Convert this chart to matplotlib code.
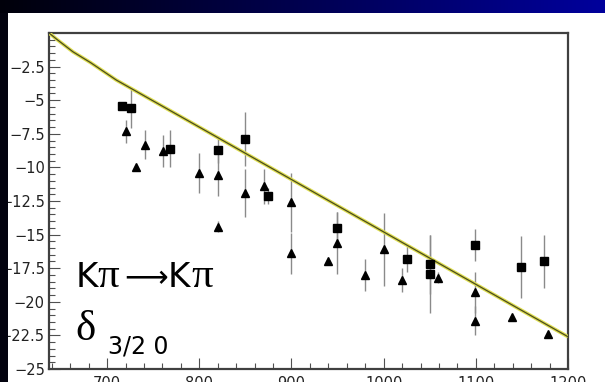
import numpy as np
import matplotlib
matplotlib.use('Agg')
from matplotlib import pyplot as plt
from matplotlib.ticker import MultipleLocator, FuncFormatter
from matplotlib.colors import LinearSegmentedColormap

# I=3/2 S-wave K pi phase shift (degrees) vs invariant mass (MeV)
curve_m = [637, 646, 663, 682, 710, 800, 900, 1000, 1100, 1200]
curve_d = [0.0, -0.5, -1.4, -2.2, -3.5, -7.0, -10.9, -14.8, -18.7, -22.6]

# data set 1 (squares)
sq_m = [716, 726, 768, 820, 850, 875, 949, 1025, 1050, 1050, 1099, 1149, 1174]
sq_d = [-5.4, -5.6, -8.6, -8.7, -7.9, -12.1, -14.5, -16.8, -17.2, -17.9, -15.8, -17.4, -17.0]
sq_e = [0.3, 1.5, 1.4, 1.0, 2.0, 0.6, 1.2, 1.0, 2.2, 2.9, 1.2, 2.3, 2.0]

# data set 2 (triangles)
tr_m = [721, 731, 741, 761, 800, 820, 820, 850, 870, 900, 900, 940, 949, 980,
        1000, 1020, 1059, 1099, 1099, 1139, 1178]
tr_d = [-7.3, -10.0, -8.3, -8.8, -10.4, -10.6, -14.4, -11.9, -11.4, -12.6, -16.4, -17.0, -15.6, -18.0,
        -16.1, -18.4, -18.2, -19.3, -21.4, -21.1, -22.4]
tr_e = [0.85, 0.0, 1.1, 1.2, 1.5, 1.5, 0.4, 1.8, 1.3, 2.2, 1.5, 0.0, 2.3, 1.2,
        2.7, 0.9, 0.4, 1.5, 1.1, 0.0, 0.0]

W, H = 605, 382
fig = plt.figure(figsize=(W/100., H/100.), dpi=100)
fig.patch.set_facecolor('white')

ax = fig.add_axes([49./W, 1-369./H, (568.-49.)/W, (369.-33.)/H])
ax.set_xlim(637, 1200)
ax.set_ylim(-25, 0)

# error bars
ax.errorbar(sq_m, sq_d, yerr=sq_e, fmt='none', ecolor='#8a8a8a', elinewidth=1.0, capsize=0, zorder=2)
ax.errorbar(tr_m, tr_d, yerr=tr_e, fmt='none', ecolor='#8a8a8a', elinewidth=1.0, capsize=0, zorder=2)

# theory curve
ax.plot(curve_m, curve_d, color='#dede50', lw=2.6, zorder=3, solid_capstyle='butt')
ax.plot(curve_m, curve_d, color='#4a4a20', lw=0.9, zorder=4)

ax.plot(sq_m, sq_d, 's', color='black', ms=5.8, zorder=5)
ax.plot(tr_m, tr_d, '^', color='black', ms=5.5, zorder=5)

# axes style
for side in ['left', 'bottom', 'right', 'top']:
    ax.spines[side].set_linewidth(1.6)
    ax.spines[side].set_color('#404040')

ax.set_yticks(np.arange(-25, -2.4, 2.5))
ax.set_xticks(np.arange(700, 1201, 100))
ax.yaxis.set_minor_locator(MultipleLocator(0.5))
ax.xaxis.set_minor_locator(MultipleLocator(20))
ax.yaxis.set_major_formatter(FuncFormatter(lambda v, p: ('%g' % v).replace('-', u'\u2212')))
ax.tick_params(which='both', direction='in', color='#505050', width=0.8,
               top=False, right=False, labelsize=10.5, labelcolor='#222222')
ax.tick_params(which='major', length=8)
ax.tick_params(which='minor', length=4)
ax.tick_params(axis='y', pad=3)
ax.tick_params(axis='x', pad=5)
for lab in ax.get_xticklabels() + ax.get_yticklabels():
    lab.set_family('DejaVu Sans')


def ftext(x, y, s, **kw):
    fig.text(x/float(W), 1-y/float(H), s, va='baseline', ha='left', color='black', **kw)


# Kpi -> Kpi label
ftext(76, 287, 'K', family='DejaVu Sans', size=24.5)
ftext(97, 287, u'\u03c0', family='Liberation Serif', size=31)
ftext(124, 287, u'\u27f6', family='DejaVu Sans', size=22)
ftext(168, 287, 'K', family='DejaVu Sans', size=24.5)
ftext(191, 287, u'\u03c0', family='Liberation Serif', size=31)
ftext(75, 340, u'\u03b4', family='Liberation Serif', size=31)
ftext(108, 354, '3/2 0', family='DejaVu Sans', size=17)

# slide frame: dark gradient strip on top and dark strip on the left
top = fig.add_axes([0, 1-13./H, 1, 13./H])
grad = np.linspace(0, 1, 256).reshape(1, -1)
cm = LinearSegmentedColormap.from_list('band', ['#00000a', '#000050', '#00009c'])
top.imshow(grad, aspect='auto', cmap=cm, extent=[0, 1, 0, 1])
top.axis('off')
left = fig.add_axes([0, 0, 8./W, 1-13./H])
left.set_facecolor('#03030f')
left.set_xticks([]); left.set_yticks([])
for s in left.spines.values():
    s.set_visible(False)

plt.savefig('out.png', dpi=100)
plt.close()
